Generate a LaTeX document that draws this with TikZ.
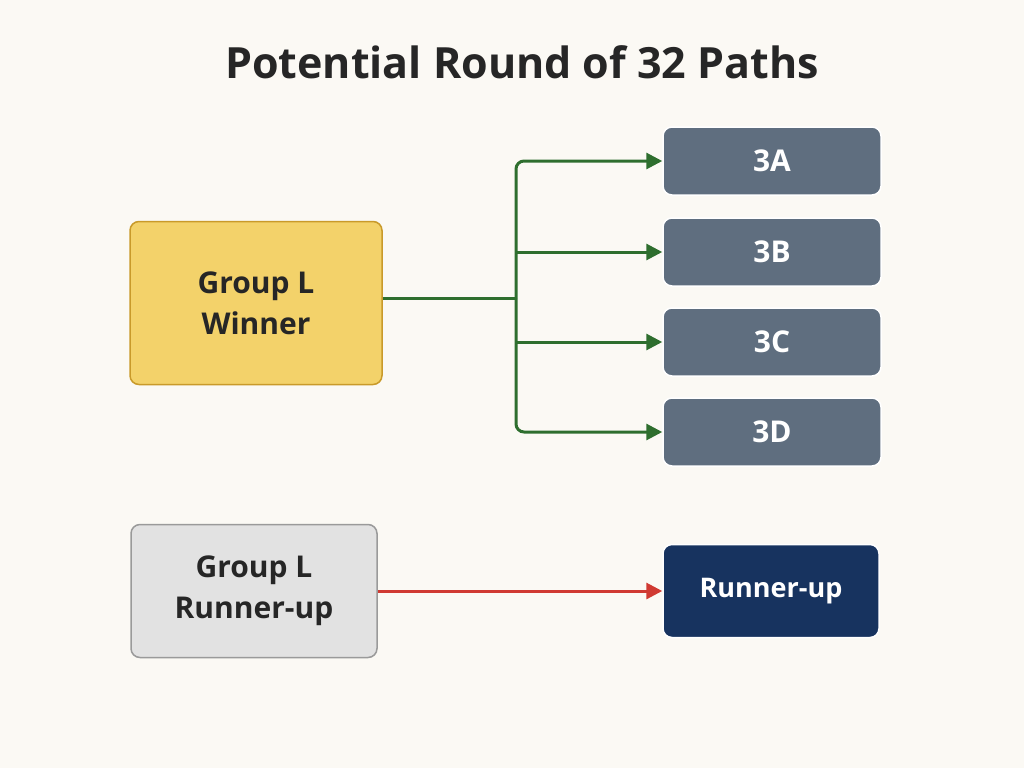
\documentclass[tikz,border=0pt]{standalone}
\usepackage{fontspec}
\setmainfont{Open Sans}
\usetikzlibrary{arrows.meta}
\definecolor{bg}{HTML}{FBF9F4}
\definecolor{slate}{HTML}{5F6E7F}
\definecolor{navy}{HTML}{17335F}
\definecolor{gold}{HTML}{F3D26A}
\definecolor{goldb}{HTML}{C99A2A}
\definecolor{greyf}{HTML}{E2E2E2}
\definecolor{greyb}{HTML}{9A9A9A}
\definecolor{grn}{HTML}{2E6E2E}
\definecolor{rd}{HTML}{D03A32}
\begin{document}
\begin{tikzpicture}[x=1pt,y=-1pt,
  box/.style={rounded corners=9pt,line width=1.5pt,inner sep=0pt,align=center,font=\fontsize{30}{41}\selectfont\bfseries},
  slatebox/.style={box,fill=slate,draw=white,text=white,minimum width=218pt,minimum height=68pt},
  arr/.style={line width=3pt,-{Triangle[length=16pt,width=16pt]}}]
\useasboundingbox[fill=bg] (0,0) rectangle (1024,768);
\node[font=\fontsize{43}{48}\selectfont\bfseries,text=black!85] (title) at (522,62) {Potential Round of 32 Paths};
\node[box,fill=gold,draw=goldb,minimum width=252pt,minimum height=163pt,text=black!85] (win) at (256,303) {Group L\\Winner};
\node[slatebox] (a) at (772,161) {3A};
\node[slatebox] (b) at (772,252) {3B};
\node[slatebox] (c) at (772,342) {3C};
\node[slatebox] (d) at (772,432) {3D};
\node[box,fill=greyf,draw=greyb,minimum width=246pt,minimum height=133pt,text=black!85] (ru) at (254,591) {Group L\\Runner-up};
\node[box,fill=navy,draw=white,text=white,minimum width=216pt,minimum height=93pt,font=\fontsize{27}{30}\selectfont\bfseries] (rb) at (771,591) {Runner-up};
\coordinate (j) at (516,298);
\draw[grn,line width=3pt] (win.east|-j) -- (j);
\draw[grn,arr,rounded corners=8pt] (j) |- (a.west);
\draw[grn,arr,rounded corners=8pt] (j) |- (d.west);
\draw[grn,arr] (j|-b.west) -- (b.west);
\draw[grn,arr] (j|-c.west) -- (c.west);
\draw[rd,arr] (ru.east) -- (rb.west);
\end{tikzpicture}
\end{document}
